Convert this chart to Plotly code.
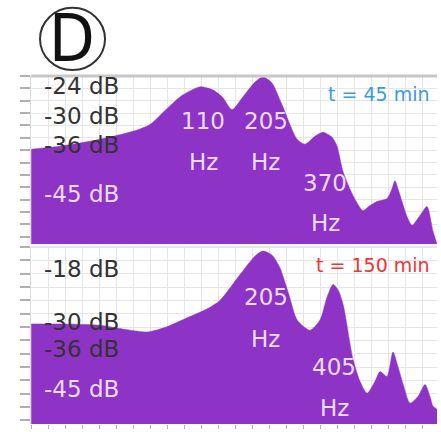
import math
import plotly.graph_objects as go

# ---------------- data ----------------
freq_45 = [20, 26.6, 39.6, 54.9, 65, 76.9, 90.2, 106.8, 121, 133, 146.7, 163.6, 184.5, 199.5,
           218, 241, 280, 303, 334, 362, 396, 416, 442, 488, 538, 577, 618, 683, 718, 739,
           762, 793, 833, 875, 948, 1016, 1079, 1122]
db_45 = [-36.8, -36.2, -34.8, -33.2, -31.8, -28.6, -25.8, -24.2, -24.8, -26.2, -28.8, -26.2,
         -23.2, -22.2, -23.4, -27.8, -34.8, -35.8, -34.2, -33.4, -34.4, -36.2, -41.4, -46.2,
         -49.2, -48.2, -47.4, -46.8, -44.8, -43.2, -44.8, -47.4, -50.4, -52.2, -50.2, -48.4,
         -53.4, -56.0]

freq_150 = [20, 26.6, 39.6, 53.4, 63.5, 76.2, 95.0, 113.6, 130.2, 158.8, 184.5, 199.5, 218,
            236.2, 258, 280, 318.1, 351.3, 376.6, 399.7, 420.1, 442, 488, 522.6, 560.2, 606.5,
            637.3, 683, 725, 762, 800.5, 858.3, 929, 996, 1047, 1079, 1122]
db_150 = [-30.4, -30.4, -30.7, -31.8, -32.2, -31.1, -28.9, -27.1, -25.1, -19.3, -15.1, -14.0,
          -14.9, -17.8, -23.8, -29.5, -31.8, -29.5, -24.4, -21.5, -22.7, -26.0, -38.4, -43.3,
          -46.0, -43.3, -41.1, -42.2, -36.7, -40.0, -43.8, -48.2, -46.7, -44.0, -46.7, -48.9,
          -49.6]

level_labels_45 = [-24, -30, -36, -45]
level_labels_150 = [-18, -30, -36, -45]
peak_labels_45 = [110, 205, 370]
peak_labels_150 = [205, 405]
time_labels = ["t = 45 min", "t = 150 min"]

# ---------------- style ----------------
PURPLE = "#8D33C6"
GRID = "#e6e6e6"
FONT = "DejaVu Sans"
Y1 = [-56, -22]
Y2 = [-52.9, -13.1]
XR = [1.3, 3.05]

fig = go.Figure()
fig.add_trace(go.Scatter(x=[freq_45[0], freq_45[-1]], y=[Y1[0], Y1[0]], mode="lines",
                         line=dict(width=0), xaxis="x", yaxis="y", showlegend=False, hoverinfo="skip"))
fig.add_trace(go.Scatter(x=freq_45, y=db_45, mode="lines", line=dict(color=PURPLE, width=0.5, shape="spline", smoothing=0.7),
                         fill="tonexty", fillcolor=PURPLE, xaxis="x", yaxis="y", showlegend=False))
fig.add_trace(go.Scatter(x=[freq_150[0], freq_150[-1]], y=[Y2[0], Y2[0]], mode="lines",
                         line=dict(width=0), xaxis="x2", yaxis="y2", showlegend=False, hoverinfo="skip"))
fig.add_trace(go.Scatter(x=freq_150, y=db_150, mode="lines", line=dict(color=PURPLE, width=0.5, shape="spline", smoothing=0.7),
                         fill="tonexty", fillcolor=PURPLE, xaxis="x2", yaxis="y2", showlegend=False))

xcommon = dict(type="log", range=XR, tick0=1.3, dtick=0.0733, showgrid=True, gridcolor=GRID,
               gridwidth=1, zeroline=False, showticklabels=False)
ycommon = dict(showgrid=True, gridcolor=GRID, zeroline=False, showticklabels=False,
               ticks="outside", ticklen=10, tickcolor="#b0b0b0", tickwidth=2,
               showline=True, linecolor="#dcdcdc", linewidth=1)

fig.update_layout(
    width=441, height=432,
    margin=dict(l=31, r=4, t=76, b=4),
    paper_bgcolor="white", plot_bgcolor="white",
    xaxis=dict(domain=[0, 1], anchor="y", ticks="", **xcommon),
    yaxis=dict(domain=[0.517, 1], anchor="x", range=Y1, tick0=-22, dtick=2.5, **ycommon),
    xaxis2=dict(domain=[0, 1], anchor="y2", ticks="outside", ticklen=4, tickcolor="#b0b0b0", **xcommon),
    yaxis2=dict(domain=[0, 0.5085], anchor="x2", range=Y2, tick0=-13.1, dtick=3, **ycommon),
)

ann = []
def txt(x, y, text, size, color, xref="paper", yref="y", xanchor="left", yshift=0):
    ann.append(dict(x=x, y=y, xref=xref, yref=yref, text=text, showarrow=False,
                    xanchor=xanchor, yanchor="middle", yshift=yshift,
                    font=dict(family=FONT, size=size, color=color)))

DARK = "#333333"
LIGHT = "#eadcf6"
for v in level_labels_45:
    txt(0.028, v, f"{v} dB", 23, LIGHT if v <= -45 else DARK, yref="y", yshift=-4 if v <= -45 else 0)
for v in level_labels_150:
    txt(0.028, v, f"{v} dB", 23, LIGHT if v <= -45 else DARK, yref="y2")

# peak labels (number over "Hz")
top_pos = {110: (-31.2, -39.4), 205: (-31.2, -39.4), 370: (-43.6, -51.8)}
for p in peak_labels_45:
    a, b = top_pos[p]
    txt(math.log10(p), a, str(p), 23, LIGHT, xref="x", yref="y", xanchor="center")
    txt(math.log10(p), b, "Hz", 23, LIGHT, xref="x", yref="y", xanchor="center")
bot_pos = {205: (-24.4, -33.8), 405: (-40.0, -49.3)}
for p in peak_labels_150:
    a, b = bot_pos[p]
    txt(math.log10(p), a, str(p), 23, LIGHT, xref="x2", yref="y2", xanchor="center")
    txt(math.log10(p), b, "Hz", 23, LIGHT, xref="x2", yref="y2", xanchor="center")

ann.append(dict(x=0.987, y=0.97, xref="paper", yref="y domain", text=time_labels[0], showarrow=False,
                xanchor="right", yanchor="top", font=dict(family=FONT, size=19, color="#3c9ae0")))
ann.append(dict(x=0.987, y=0.97, xref="paper", yref="y2 domain", text=time_labels[1], showarrow=False,
                xanchor="right", yanchor="top", font=dict(family=FONT, size=19, color="#f03434")))
# panel letter
ann.append(dict(x=0.102, y=1.108, xref="paper", yref="paper", text="D", showarrow=False,
                xanchor="center", yanchor="middle",
                font=dict(family="Liberation Sans Narrow, DejaVu Sans Condensed, sans-serif", size=66, color="#111111")))
fig.update_layout(annotations=ann)

fig.update_layout(shapes=[
    dict(type="circle", xref="paper", yref="paper", x0=0.0222, x1=0.1823, y0=1.017, y1=1.196,
         line=dict(color="#333333", width=2)),
    dict(type="line", xref="paper", yref="y domain", x0=0, x1=1, y0=1, y1=1,
         line=dict(color="#c8c8c8", width=3)),
    dict(type="line", xref="paper", yref="y2 domain", x0=0, x1=1, y0=1, y1=1,
         line=dict(color="#dddddd", width=1.5)),
])

fig.write_html("out.html", config={"displayModeBar": False},
               post_script="document.body.style.margin='0';document.body.style.padding='0';")
